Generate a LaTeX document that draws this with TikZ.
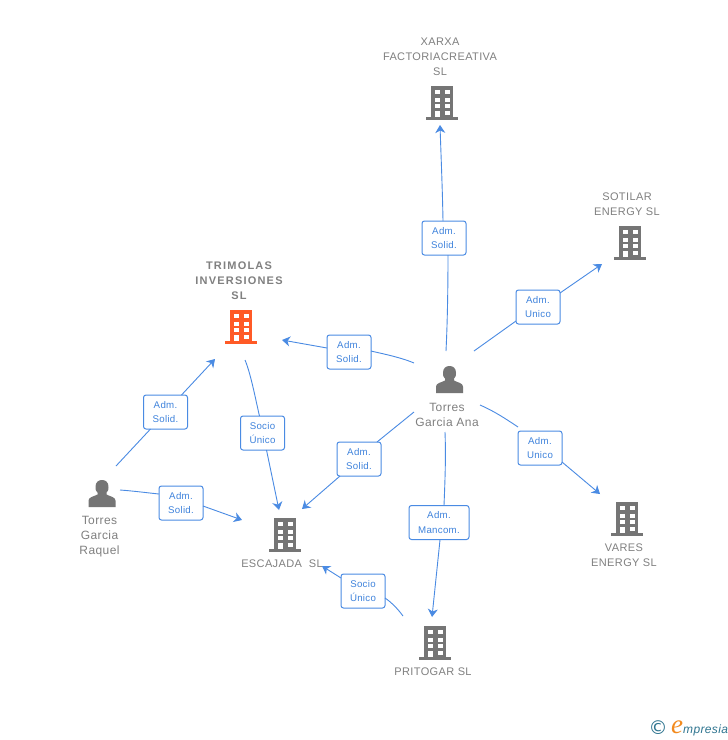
\documentclass[tikz,border=0pt]{standalone}
\usepackage{fontspec}
\setmainfont{Liberation Sans}
\newfontfamily\namefont[LetterSpace=3.5]{Liberation Sans}
\newfontfamily\boldnamefont[LetterSpace=11]{Liberation Sans Bold}
\newfontfamily\smallfont[LetterSpace=3]{Liberation Sans}
\newfontfamily\logofont{DejaVu Sans}
\newfontfamily\efont{Liberation Serif Italic}
\newfontfamily\mfont[LetterSpace=3]{Liberation Sans Italic}
\usetikzlibrary{arrows.meta,calc}
\definecolor{linkblue}{HTML}{4A8BE3}
\definecolor{labelblue}{HTML}{3F83DC}
\definecolor{icongray}{HTML}{757575}
\definecolor{textgray}{HTML}{808080}
\definecolor{corporange}{HTML}{FF5A26}
\definecolor{logoteal}{HTML}{2F7590}
\definecolor{logoorange}{HTML}{F28A1E}
\tikzset{
  x=1pt,y=-1pt,
  conn/.style={draw=linkblue,line width=0.9pt},
  arr/.style={conn,-{Stealth[length=8pt,width=10pt,inset=2.5pt]}},
  lab/.style={draw=linkblue,rounded corners=2.5pt,fill=white,line width=1pt,text=labelblue,
     font=\smallfont\fontsize{9.7}{14.5}\selectfont,align=center,inner sep=0pt,minimum height=34pt},
  lab44/.style={lab,minimum width=44pt},
  lab60/.style={lab,minimum width=60pt},
  anchorbox/.style={inner sep=0pt,minimum width=32pt,minimum height=34pt},
  nametext/.style={text=textgray,font=\namefont\fontsize{11}{15}\selectfont,align=center,inner sep=0pt},
  boldname/.style={nametext,font=\boldnamefont\fontsize{11}{15}\selectfont},
  personname/.style={nametext,font=\namefont\fontsize{12}{15}\selectfont},
  building/.pic={
    \fill[pic actions] (-11,-17) rectangle (11,15);
    \fill[pic actions] (-16,14) rectangle (16,17);
    \foreach \yy in {-13,-5.5,1}{
      \fill[white] (-7.5,\yy) rectangle (-2.5,\yy+4.3);
      \fill[white] (2.5,\yy) rectangle (7.5,\yy+4.3);
    }
    \fill[white] (-7.5,7.5) rectangle (-2.5,14);
    \fill[white] (2.5,7.5) rectangle (7.5,11.5);
  },
  person/.pic={
    \fill[pic actions] (-13.5,13) -- (-13.5,6.5) .. controls (-13.5,3) and (-8,2.5) .. (-4.5,0.5)
      -- (-4.5,-1.5) .. controls (-7,-4) and (-6.5,-6) .. (-6.5,-7)
      .. controls (-6.5,-12) and (-3.5,-14) .. (0,-14)
      .. controls (3.5,-14) and (6.5,-12) .. (6.5,-7)
      .. controls (6.5,-6) and (7,-4) .. (4.5,-1.5) -- (4.5,0.5)
      .. controls (8,2.5) and (13.5,3) .. (13.5,6.5) -- (13.5,13) -- cycle;
  },
}
\begin{document}
\begin{tikzpicture}
\useasboundingbox (0,0) rectangle (728,740);
\fill[white] (0,0) rectangle (728,740);

% icons
\node[anchorbox] (xarxa) at (442,103) {};
\node[anchorbox] (sotilar) at (630,243) {};
\node[anchorbox] (trimolas) at (241,327) {};
\node[anchorbox] (escajada) at (285,535) {};
\node[anchorbox] (vares) at (627,519) {};
\node[anchorbox] (pritogar) at (435,643) {};
\node[anchorbox] (ana) at (449.5,380) {};
\node[anchorbox] (raquel) at (102,494) {};
\pic[fill=icongray] at (xarxa) {building};
\pic[fill=icongray] at (sotilar) {building};
\pic[fill=corporange] at (trimolas) {building};
\pic[fill=icongray] at (escajada) {building};
\pic[fill=icongray] at (vares) {building};
\pic[fill=icongray] at (pritogar) {building};
\pic[fill=icongray] at (ana) {person};
\pic[fill=icongray] at (raquel) {person};

% names
\node[nametext] (nxarxa) at (440,57) {XARXA\\FACTORIACREATIVA\\SL};
\node[nametext] (nsotilar) at (627,204.5) {SOTILAR\\ENERGY SL};
\node[boldname] (ntrim) at (239,281) {TRIMOLAS\\INVERSIONES\\SL};
\node[personname] (nana) at (447,414.5) {Torres\\Garcia Ana};
\node[personname] (nraquel) at (99.5,537) {Torres\\Garcia\\Raquel};
\node[nametext] (nesc) at (282,564) {ESCAJADA\ \ SL};
\node[nametext] (nvares) at (624,555.5) {VARES\\ENERGY SL};
\node[nametext] (nprit) at (433,672) {PRITOGAR SL};

% labels
\node[lab44] (l1) at (444,238) {Adm.\\Solid.};
\node[lab44] (l2) at (538,307) {Adm.\\Unico};
\node[lab44] (l3) at (349,352) {Adm.\\Solid.};
\node[lab44] (l4) at (540,448) {Adm.\\Unico};
\node[lab44] (l5) at (359,459) {Adm.\\Solid.};
\node[lab60] (l6) at (439,522.5) {Adm.\\Mancom.};
\node[lab44] (l7) at (363,591) {Socio\\Único};
\node[lab44] (l8) at (262.5,433) {Socio\\Único};
\node[lab44] (l9) at (165.5,412) {Adm.\\Solid.};
\node[lab44] (l10) at (181,503) {Adm.\\Solid.};

% connectors
\draw[conn] ([shift={(-3.5,-29)}]ana.center) .. controls +(1.5,-30) and +(0,30) .. ([shift={(4,17)}]l1.center);
\draw[arr] ([shift={(-1,-17)}]l1.center) .. controls +(-0.5,-30) and +(1,30) .. ([shift={(-2,22)}]xarxa.center);
\draw[conn] ([shift={(24.5,-29)}]ana.center) -- ([shift={(-22,14)}]l2.center);
\draw[arr] ([shift={(22,-14)}]l2.center) -- ([shift={(-28,21)}]sotilar.center);
\draw[conn] ([shift={(-35.5,-17)}]ana.center) .. controls +(-14,-6) and +(8,2) .. ([shift={(22,-1)}]l3.center);
\draw[arr] ([shift={(-22,-4)}]l3.center) -- ([shift={(41,13)}]trimolas.center);
\draw[conn] ([shift={(30.5,25)}]ana.center) .. controls +(14,6) and +(-12,-8) .. ([shift={(-22,-21)}]l4.center);
\draw[arr] ([shift={(22,14)}]l4.center) -- ([shift={(-27,-25)}]vares.center);
\draw[conn] ([shift={(-35.5,32)}]ana.center) -- ([shift={(18,-17)}]l5.center);
\draw[arr] ([shift={(-19,17)}]l5.center) -- ([shift={(17,-26)}]escajada.center);
\draw[conn] ([shift={(-4.5,52)}]ana.center) .. controls +(1,25) and +(1,-25) .. ([shift={(5,-17)}]l6.center);
\draw[arr] ([shift={(1,17.5)}]l6.center) -- ([shift={(-3,-26)}]pritogar.center);
\draw[conn] ([shift={(-32,-27)}]pritogar.center) .. controls +(-5,-7) and +(6,4) .. ([shift={(22,7)}]l7.center);
\draw[arr] ([shift={(-22,-13)}]l7.center) -- ([shift={(37,31)}]escajada.center);
\draw[conn] ([shift={(4,33)}]trimolas.center) .. controls +(6,14) and +(-3,-12) .. ([shift={(-3,-17)}]l8.center);
\draw[arr] ([shift={(4,17)}]l8.center) -- ([shift={(-6,-25)}]escajada.center);
\draw[conn] ([shift={(14,-28)}]raquel.center) -- ([shift={(-15,17)}]l9.center);
\draw[arr] ([shift={(16,-17)}]l9.center) -- ([shift={(-26,32)}]trimolas.center);
\draw[conn] ([shift={(18,-4)}]raquel.center) .. controls +(14,1) and +(-10,-1) .. ([shift={(-22,-9)}]l10.center);
\draw[arr] ([shift={(22,3)}]l10.center) -- ([shift={(-43,-15)}]escajada.center);

% logo
\node[inner sep=0pt,text=logoteal,font=\logofont\fontsize{19}{19}\selectfont] (copy) at (658,728) {©};
\node[inner sep=0pt,text=logoorange,font=\efont\fontsize{27}{27}\selectfont] (loge) at (677,727) {e};
\node[inner sep=0pt,text=logoteal,anchor=west,font=\mfont\fontsize{12}{12}\selectfont] (logt) at (683,730) {mpresia};
\end{tikzpicture}
\end{document}
